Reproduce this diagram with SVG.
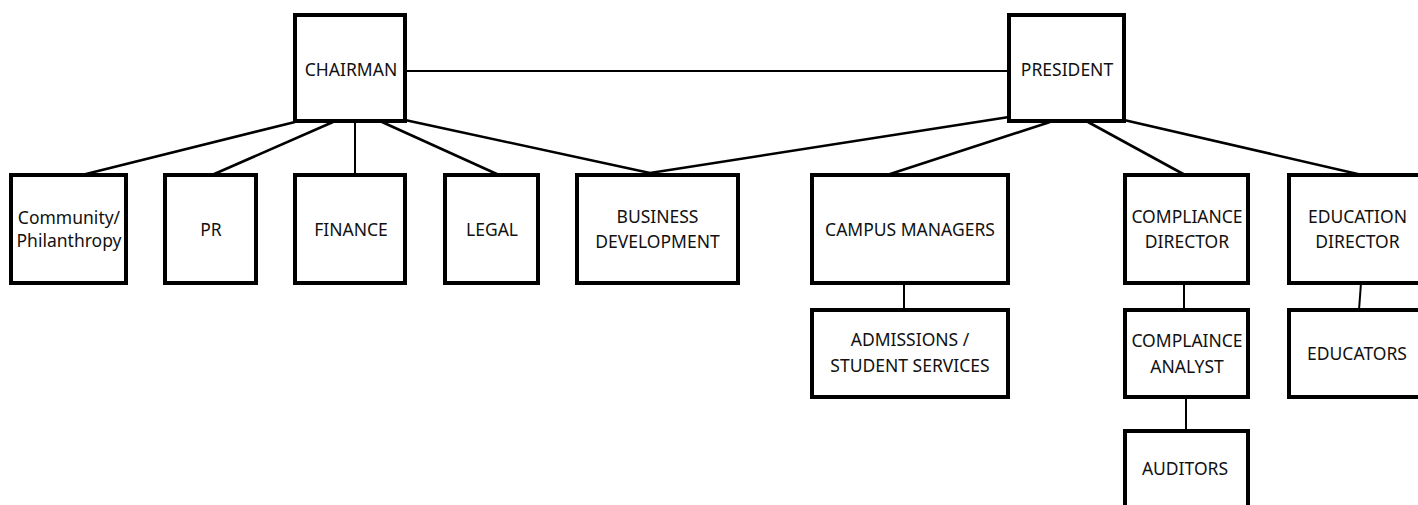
<svg xmlns="http://www.w3.org/2000/svg" width="1418" height="505" viewBox="0 0 1418 505">
<style>
.box{fill:#fff;stroke:#000;stroke-width:4}
.t{font-family:"Noto Sans","Open Sans",sans-serif;font-size:17.5px;fill:#111;text-anchor:middle}
.c{stroke:#000;fill:none;stroke-width:2.6}
.thin{stroke-width:2}
</style>
<rect width="1418" height="505" fill="#fff"/>
<g id="connectors">
<line class="c thin" x1="405" y1="71" x2="1009" y2="71"/>
<line class="c" x1="295" y1="122" x2="82" y2="175"/>
<line class="c" x1="333" y1="122" x2="212" y2="175"/>
<line class="c thin" x1="355" y1="122" x2="355" y2="175"/>
<line class="c" x1="382" y1="122" x2="499" y2="175"/>
<line class="c" x1="405" y1="120" x2="650" y2="173"/>
<line class="c" x1="1009" y1="117" x2="650" y2="173"/>
<line class="c" x1="1050" y1="122" x2="887" y2="175"/>
<line class="c" x1="1088" y1="122" x2="1185" y2="175"/>
<line class="c" x1="1124" y1="120" x2="1362" y2="175"/>
<line class="c thin" x1="904" y1="283" x2="904" y2="310"/>
<line class="c thin" x1="1184" y1="283" x2="1184" y2="310"/>
<line class="c thin" x1="1186" y1="397" x2="1186" y2="431"/>
<line class="c thin" x1="1361" y1="283" x2="1359" y2="310"/>
</g>
<g id="chairman"><rect class="box" x="295" y="15" width="110" height="106"/><text class="t" x="351" y="76">CHAIRMAN</text></g>
<g id="president"><rect class="box" x="1009" y="15" width="115" height="106"/><text class="t" x="1067" y="76">PRESIDENT</text></g>
<g id="community"><rect class="box" x="11" y="175" width="115" height="108"/><text class="t" x="69" y="224">Community/</text><text class="t" x="69" y="247">Philanthropy</text></g>
<g id="pr"><rect class="box" x="165" y="175" width="91" height="108"/><text class="t" x="211" y="236">PR</text></g>
<g id="finance"><rect class="box" x="295" y="175" width="110" height="108"/><text class="t" x="351" y="236">FINANCE</text></g>
<g id="legal"><rect class="box" x="445" y="175" width="93" height="108"/><text class="t" x="492" y="236">LEGAL</text></g>
<g id="business"><rect class="box" x="577" y="175" width="161" height="108"/><text class="t" x="657.5" y="223">BUSINESS</text><text class="t" x="657.5" y="248">DEVELOPMENT</text></g>
<g id="campus"><rect class="box" x="812" y="175" width="196" height="108"/><text class="t" x="910" y="236">CAMPUS MANAGERS</text></g>
<g id="compliance-director"><rect class="box" x="1125" y="175" width="123" height="108"/><text class="t" x="1187" y="223">COMPLIANCE</text><text class="t" x="1187" y="248">DIRECTOR</text></g>
<g id="education-director"><rect class="box" x="1289" y="175" width="137" height="108"/><text class="t" x="1357.5" y="223">EDUCATION</text><text class="t" x="1357.5" y="248">DIRECTOR</text></g>
<g id="admissions"><rect class="box" x="812" y="310" width="196" height="87"/><text class="t" x="910" y="346">ADMISSIONS /</text><text class="t" x="910" y="372">STUDENT SERVICES</text></g>
<g id="compliance-analyst"><rect class="box" x="1125" y="310" width="123" height="87"/><text class="t" x="1187" y="347">COMPLAINCE</text><text class="t" x="1187" y="373">ANALYST</text></g>
<g id="educators"><rect class="box" x="1289" y="310" width="137" height="87"/><text class="t" x="1357" y="360">EDUCATORS</text></g>
<g id="auditors"><rect class="box" x="1125" y="431" width="123" height="100"/><text class="t" x="1185" y="475">AUDITORS</text></g>
</svg>
